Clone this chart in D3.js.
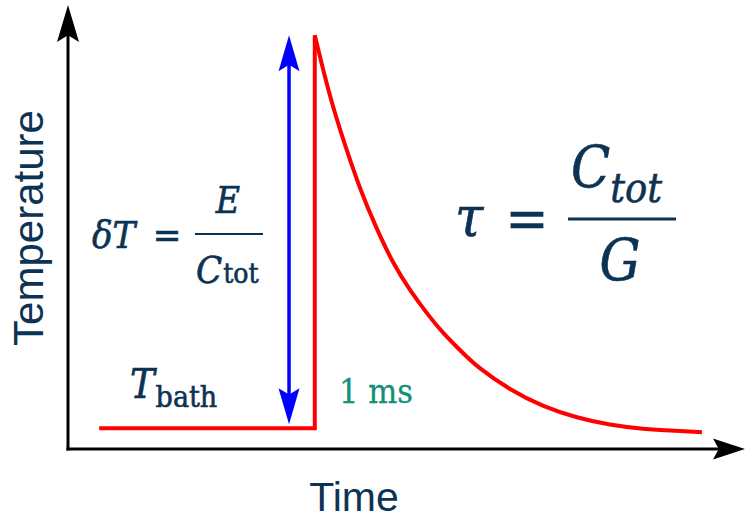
<!DOCTYPE html>
<html>
<head>
<meta charset="utf-8">
<title>Temperature pulse</title>
<script src="https://d3js.org/d3.v7.min.js"></script>
<style>
    body { margin: 0; background: white; }
    svg { display: block; }
    .sans { font-family: "Liberation Sans", Arial, sans-serif; }
    .math { font-family: "DejaVu Serif Condensed", "DejaVu Serif", serif; }
</style>
</head>
<body>
<svg id="chart" width="746" height="519"></svg>
<script>
    // red trace, time in arbitrary units (0..10), temperature in arbitrary units (0..10)
    const stepTime  = [0.46, 3.64, 3.64];
    const stepTemp  = [0.47, 0.47, 9.32];
    const decayTime = [3.64, 3.86, 4.06, 4.31, 4.56, 4.79, 5.04, 5.29, 5.53, 5.78, 6.03, 6.52, 7.01, 7.51, 7.99, 8.48, 8.98, 9.35];
    const decayTemp = [9.32, 7.93, 6.96, 5.83, 4.93, 4.19, 3.58, 3.06, 2.61, 2.23, 1.85, 1.33, 0.95, 0.70, 0.54, 0.45, 0.41, 0.38];

    // blue double arrow = height of the jump
    const jumpTime = 3.26;
    const jumpTemp = [0.56, 9.32];

    const navy = "#0d3354";
    const svg = d3.select("#chart");

    const x = d3.scaleLinear().domain([0, 10]).range([68, 746]);
    const y = d3.scaleLinear().domain([0, 10]).range([449, 5]);

    // stealth arrow head, tip at origin pointing to +x
    function head(len, wid) {
        return `M0,0 L${-len},${-wid / 2} L${-len * 0.82},0 L${-len},${wid / 2} Z`;
    }

    // axes
    const ax = svg.append("g");
    ax.append("line")
        .attr("x1", x(0) - 1.5).attr("x2", x(10) - 25)
        .attr("y1", y(0)).attr("y2", y(0))
        .attr("stroke", "black").attr("stroke-width", 3);
    ax.append("line")
        .attr("x1", x(0)).attr("x2", x(0))
        .attr("y1", y(0) + 1.5).attr("y2", y(10) + 30)
        .attr("stroke", "black").attr("stroke-width", 3);
    ax.append("path")
        .attr("d", head(32, 21))
        .attr("transform", `translate(${x(10) - 1},${y(0)})`)
        .attr("fill", "black");
    ax.append("path")
        .attr("d", head(37, 22))
        .attr("transform", `translate(${x(0)},${y(10)}) rotate(-90)`)
        .attr("fill", "black");

    // red trace
    const line = d3.line().x(d => x(d[0])).y(d => y(d[1]));
    svg.append("path")
        .attr("d", line(d3.zip(stepTime, stepTemp)))
        .attr("fill", "none").attr("stroke", "#ff0000")
        .attr("stroke-width", 4).attr("stroke-linejoin", "miter");
    svg.append("path")
        .attr("d", line.curve(d3.curveBasis)(d3.zip(decayTime, decayTemp)))
        .attr("fill", "none").attr("stroke", "#ff0000")
        .attr("stroke-width", 4).attr("stroke-linejoin", "miter");

    // blue double arrow
    const bx = x(jumpTime);
    svg.append("line")
        .attr("x1", bx).attr("x2", bx)
        .attr("y1", y(jumpTemp[0]) - 25).attr("y2", y(jumpTemp[1]) + 25)
        .attr("stroke", "#0000ff").attr("stroke-width", 3.5);
    svg.append("path")
        .attr("d", head(36, 21))
        .attr("transform", `translate(${bx},${y(jumpTemp[1])}) rotate(-90)`)
        .attr("fill", "#0000ff");
    svg.append("path")
        .attr("d", head(36, 21))
        .attr("transform", `translate(${bx},${y(jumpTemp[0])}) rotate(90)`)
        .attr("fill", "#0000ff");

    // axis titles
    svg.append("text").attr("class", "sans")
        .attr("transform", "translate(43,228) rotate(-90)")
        .attr("text-anchor", "middle")
        .attr("font-size", 42).attr("fill", navy)
        .text("Temperature");
    svg.append("text").attr("class", "sans")
        .attr("x", 354).attr("y", 511)
        .attr("text-anchor", "middle")
        .attr("font-size", 41).attr("fill", navy)
        .text("Time");

    // δT = E / C_tot
    const m = svg.append("g").attr("class", "math")
        .attr("fill", navy).attr("stroke", navy).attr("stroke-width", 0.6);
    m.append("text").attr("x", 92).attr("y", 248)
        .attr("font-size", 38).attr("font-style", "italic").text("δT");
    m.append("text").attr("x", 167).attr("y", 248)
        .attr("text-anchor", "middle").attr("font-size", 38).text("=");
    m.append("line").attr("x1", 195).attr("x2", 263).attr("y1", 234).attr("y2", 234)
        .attr("stroke-width", 2.2);
    m.append("text").attr("x", 228).attr("y", 213)
        .attr("text-anchor", "middle").attr("font-size", 37).attr("font-style", "italic").text("E");
    const c1 = m.append("text").attr("x", 196).attr("y", 283).attr("font-size", 38);
    c1.append("tspan").attr("font-style", "italic").text("C");
    c1.append("tspan").attr("font-size", 28).attr("dx", 1).text("tot");

    // τ = C_tot / G
    m.append("text").attr("x", 455).attr("y", 236)
        .attr("font-size", 57).attr("font-style", "italic").text("τ");
    m.append("text").attr("x", 527).attr("y", 238)
        .attr("text-anchor", "middle").attr("font-size", 57).text("=");
    m.append("line").attr("x1", 568).attr("x2", 676).attr("y1", 219).attr("y2", 219)
        .attr("stroke-width", 3.2);
    const c2 = m.append("text").attr("x", 571).attr("y", 187).attr("font-size", 57).attr("font-style", "italic");
    c2.append("tspan").text("C");
    c2.append("tspan").attr("font-size", 41).attr("dy", 15).text("tot");
    m.append("text").attr("x", 620).attr("y", 280)
        .attr("text-anchor", "middle").attr("font-size", 57).attr("font-style", "italic").text("G");

    // T_bath
    const tb = m.append("text").attr("x", 130).attr("y", 398).attr("font-size", 41);
    tb.append("tspan").attr("font-style", "italic").text("T");
    tb.append("tspan").attr("font-size", 30).attr("dy", 9).attr("dx", 1).text("bath");

    // pulse duration
    svg.append("text").attr("class", "math")
        .attr("x", 339).attr("y", 403)
        .attr("font-size", 34).attr("fill", "#12907a")
        .attr("stroke", "#12907a").attr("stroke-width", 0.3)
        .text("1 ms");
</script>
</body>
</html>
